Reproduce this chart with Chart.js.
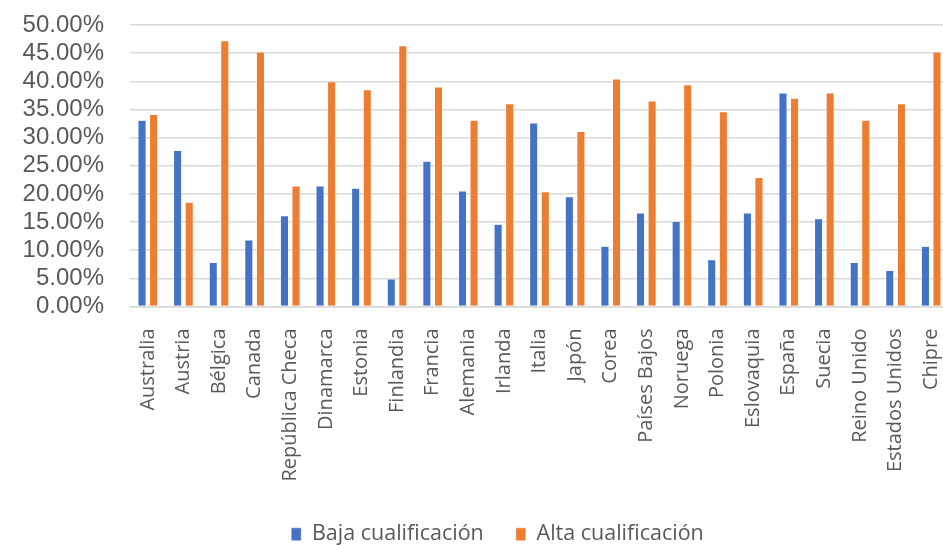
<!DOCTYPE html>
<html lang="es">
<head>
  <meta charset="UTF-8" />
  <title>Baja vs Alta cualificación</title>
  <script src="https://cdn.jsdelivr.net/npm/chart.js"></script>
  <style>
    html, body { margin: 0; padding: 0; background: #fff; overflow: hidden; }
    /* plot runs a few px past the right edge in the original */
    #wrap { width: 949px; height: 545px; position: relative; }
  </style>
</head>
<body>
  <div id="wrap"><canvas id="chart"></canvas></div>

  <script>
    const paises = ["Australia", "Austria", "Bélgica", "Canada", "República Checa", "Dinamarca", "Estonia",
      "Finlandia", "Francia", "Alemania", "Irlanda", "Italia", "Japón", "Corea", "Países Bajos", "Noruega",
      "Polonia", "Eslovaquia", "España", "Suecia", "Reino Unido", "Estados Unidos", "Chipre"];
    const baja = [33.1, 27.7, 7.8, 11.8, 16.1, 21.4, 21.0, 4.9, 25.8, 20.5, 14.6, 32.6, 19.5, 10.7, 16.6, 15.1,
      8.3, 16.6, 37.9, 15.6, 7.8, 6.4, 10.7];
    const alta = [34.1, 18.5, 47.2, 45.2, 21.4, 39.9, 38.5, 46.3, 39.0, 33.1, 36.0, 20.4, 31.1, 40.4, 36.5, 39.4,
      34.6, 22.9, 37.0, 37.9, 33.1, 36.0, 45.2];

    // move the legend a bit to the right, like in the original
    const shiftLegend = {
      id: "shiftLegend",
      afterLayout(c) {
        c.legend.left += 23;
        c.legend.right += 23;
      }
    };

    new Chart(document.getElementById("chart"), {
      type: "bar",
      data: {
        labels: paises,
        datasets: [
          { label: "Baja cualificación", data: baja, backgroundColor: "#4472c4", borderColor: "#ffffff", borderWidth: 0.5 },
          { label: "Alta cualificación", data: alta, backgroundColor: "#ed7d31", borderColor: "#ffffff", borderWidth: 0.5 }
        ]
      },
      plugins: [shiftLegend],
      options: {
        responsive: true,
        maintainAspectRatio: false,
        animation: false,
        layout: { padding: { top: 25, right: 0, bottom: -10, left: 0 } },
        datasets: { bar: { barPercentage: 0.7, categoryPercentage: 0.65 } },
        scales: {
          y: {
            min: 0,
            max: 50,
            ticks: {
              stepSize: 5,
              autoSkip: false,
              color: "#595959",
              padding: 26,
              font: { family: "Liberation Sans", size: 24 },
              callback: v => v.toFixed(2) + "%"
            },
            grid: { color: "#d9d9d9", lineWidth: 1.5, drawTicks: false },
            border: { display: false },
            afterFit: s => { s.width = 130; s.paddingTop = 0; s.paddingBottom = 0; }
          },
          x: {
            ticks: {
              color: "#595959",
              minRotation: 90,
              maxRotation: 90,
              autoSkip: false,
              padding: 14,
              font: { family: "Open Sans", size: 20 }
            },
            grid: { display: false },
            border: { color: "#d9d9d9", width: 1.5 },
            afterFit: s => { s.height = 185; s.paddingLeft = 0; s.paddingRight = 0; }
          }
        },
        plugins: {
          legend: {
            position: "bottom",
            labels: {
              boxWidth: 10,
              boxHeight: 13,
              padding: 32,
              color: "#595959",
              font: { family: "Open Sans", size: 21.5 }
            }
          },
          tooltip: { enabled: false }
        }
      }
    });
  </script>
</body>
</html>
